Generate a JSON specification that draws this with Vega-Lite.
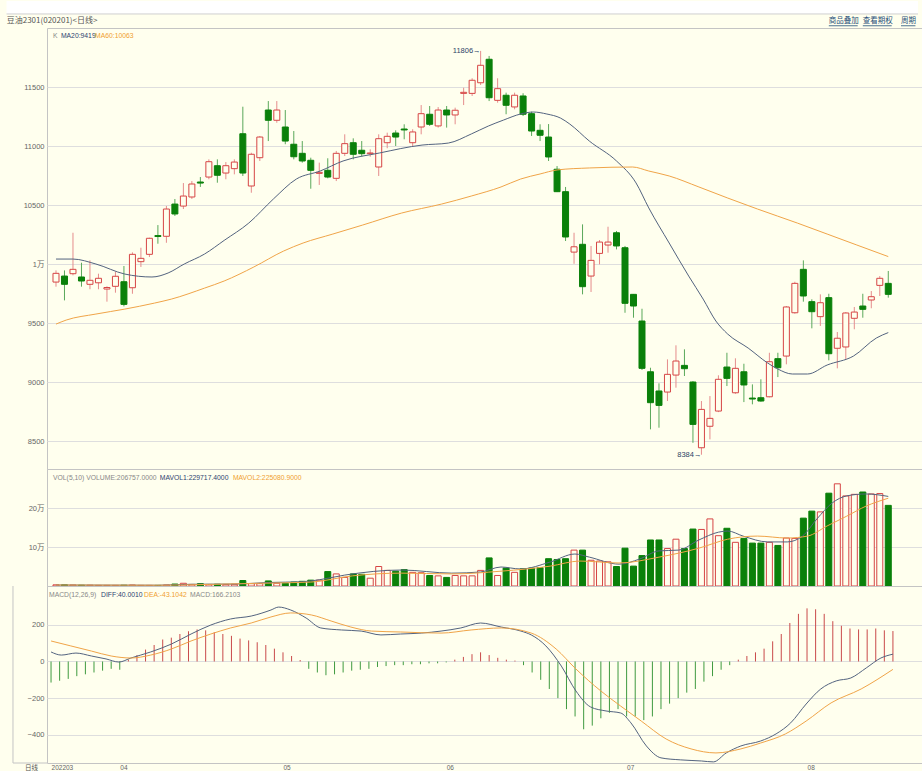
{
"$schema": "https://vega.github.io/schema/vega-lite/v6.json",
"background": "#ffffee",
"padding": {"left": 0, "right": 0, "top": 0, "bottom": 0},
"spacing": 0,
"bounds": "flush",
"config": {
  "view": {"stroke": "#c4c4c4"},
  "axis": {"labelFont": "Liberation Sans, Noto Sans CJK SC", "labelFontSize": 7.5, "labelColor": "#666666", "domain": false, "ticks": false, "gridColor": "#dedede", "labelPadding": 3, "title": null},
  "axisY": {"minExtent": 46, "maxExtent": 46},
  "text": {"font": "Liberation Sans, Noto Sans CJK SC", "fontSize": 6.8}
},
"datasets": {
"k": [
{"i":0,"o":9847,"h":9946,"l":9808,"c":9921,"v":3000,"m":-115},
{"i":1,"o":9898,"h":9946,"l":9692,"c":9828,"v":3000,"m":-105},
{"i":2,"o":9918,"h":10265,"l":9904,"c":9955,"v":2500,"m":-95},
{"i":3,"o":9890,"h":10011,"l":9808,"c":9856,"v":2000,"m":-80},
{"i":4,"o":9828,"h":10031,"l":9786,"c":9862,"v":2000,"m":-70},
{"i":5,"o":9841,"h":9918,"l":9786,"c":9879,"v":1500,"m":-60},
{"i":6,"o":9788,"h":9811,"l":9681,"c":9801,"v":1500,"m":-50},
{"i":7,"o":9811,"h":9935,"l":9757,"c":9896,"v":1500,"m":-40},
{"i":8,"o":9850,"h":9983,"l":9641,"c":9658,"v":2000,"m":-45},
{"i":9,"o":9799,"h":10099,"l":9748,"c":10082,"v":2500,"m":10},
{"i":10,"o":10020,"h":10138,"l":9975,"c":10048,"v":1500,"m":35},
{"i":11,"o":10082,"h":10223,"l":10059,"c":10218,"v":1500,"m":65},
{"i":12,"o":10241,"h":10330,"l":10172,"c":10233,"v":1500,"m":90},
{"i":13,"o":10235,"h":10492,"l":10180,"c":10466,"v":2500,"m":120},
{"i":14,"o":10508,"h":10551,"l":10407,"c":10424,"v":5000,"m":130},
{"i":15,"o":10491,"h":10686,"l":10466,"c":10576,"v":7000,"m":150},
{"i":16,"o":10568,"h":10703,"l":10551,"c":10678,"v":4000,"m":165},
{"i":17,"o":10695,"h":10737,"l":10653,"c":10686,"v":6000,"m":175},
{"i":18,"o":10737,"h":10887,"l":10718,"c":10867,"v":4000,"m":170},
{"i":19,"o":10833,"h":10887,"l":10689,"c":10752,"v":4500,"m":160},
{"i":20,"o":10771,"h":10864,"l":10718,"c":10833,"v":4000,"m":150},
{"i":21,"o":10808,"h":10887,"l":10760,"c":10864,"v":4500,"m":140},
{"i":22,"o":11104,"h":11333,"l":10746,"c":10771,"v":14000,"m":125},
{"i":23,"o":10661,"h":10943,"l":10604,"c":10930,"v":6000,"m":115},
{"i":24,"o":10901,"h":11085,"l":10873,"c":11076,"v":6000,"m":105},
{"i":25,"o":11305,"h":11381,"l":11042,"c":11218,"v":13000,"m":90},
{"i":26,"o":11218,"h":11381,"l":11197,"c":11305,"v":7000,"m":70},
{"i":27,"o":11161,"h":11305,"l":11015,"c":11042,"v":7000,"m":50},
{"i":28,"o":11015,"h":11127,"l":10887,"c":10909,"v":10000,"m":30},
{"i":29,"o":10938,"h":11042,"l":10859,"c":10873,"v":12000,"m":8},
{"i":30,"o":10879,"h":10901,"l":10638,"c":10794,"v":15000,"m":-40},
{"i":31,"o":10768,"h":10859,"l":10670,"c":10777,"v":15000,"m":-60},
{"i":32,"o":10794,"h":10896,"l":10726,"c":10737,"v":37000,"m":-75},
{"i":33,"o":10726,"h":10958,"l":10703,"c":10938,"v":31000,"m":-70},
{"i":34,"o":10938,"h":11099,"l":10915,"c":11020,"v":22000,"m":-60},
{"i":35,"o":11028,"h":11065,"l":10887,"c":10930,"v":31000,"m":-50},
{"i":36,"o":10964,"h":11042,"l":10909,"c":10935,"v":30000,"m":-45},
{"i":37,"o":10935,"h":10972,"l":10909,"c":10941,"v":20000,"m":-40},
{"i":38,"o":10822,"h":11099,"l":10746,"c":11062,"v":50000,"m":-30},
{"i":39,"o":11028,"h":11113,"l":10981,"c":11082,"v":40000,"m":-25},
{"i":40,"o":11110,"h":11133,"l":11000,"c":11076,"v":38000,"m":-20},
{"i":41,"o":11144,"h":11184,"l":11057,"c":11136,"v":42000,"m":-20},
{"i":42,"o":11028,"h":11142,"l":11000,"c":11119,"v":35000,"m":-15},
{"i":43,"o":11161,"h":11347,"l":11099,"c":11274,"v":34000,"m":-15},
{"i":44,"o":11269,"h":11339,"l":11170,"c":11184,"v":27000,"m":-10},
{"i":45,"o":11170,"h":11330,"l":11156,"c":11305,"v":26000,"m":-10},
{"i":46,"o":11305,"h":11339,"l":11156,"c":11263,"v":22000,"m":-5},
{"i":47,"o":11263,"h":11325,"l":11184,"c":11303,"v":27000,"m":10},
{"i":48,"o":11446,"h":11494,"l":11347,"c":11455,"v":26000,"m":25},
{"i":49,"o":11446,"h":11574,"l":11424,"c":11557,"v":26000,"m":40},
{"i":50,"o":11536,"h":11806,"l":11517,"c":11684,"v":40000,"m":50},
{"i":51,"o":11735,"h":11763,"l":11381,"c":11409,"v":72000,"m":35},
{"i":52,"o":11387,"h":11574,"l":11367,"c":11486,"v":27000,"m":20},
{"i":53,"o":11430,"h":11452,"l":11269,"c":11345,"v":46000,"m":10},
{"i":54,"o":11331,"h":11452,"l":11311,"c":11430,"v":35000,"m":5},
{"i":55,"o":11424,"h":11447,"l":11254,"c":11269,"v":44000,"m":-20},
{"i":56,"o":11274,"h":11291,"l":11085,"c":11127,"v":46000,"m":-60},
{"i":57,"o":11133,"h":11184,"l":11042,"c":11091,"v":47000,"m":-100},
{"i":58,"o":11076,"h":11186,"l":10873,"c":10907,"v":70000,"m":-150},
{"i":59,"o":10803,"h":10830,"l":10610,"c":10613,"v":68000,"m":-200},
{"i":60,"o":10613,"h":10653,"l":10195,"c":10229,"v":70000,"m":-260},
{"i":61,"o":10101,"h":10265,"l":10002,"c":10146,"v":92000,"m":-300},
{"i":62,"o":10167,"h":10336,"l":9743,"c":9808,"v":92000,"m":-370},
{"i":63,"o":9898,"h":10153,"l":9763,"c":10031,"v":66000,"m":-350},
{"i":64,"o":10090,"h":10203,"l":9997,"c":10186,"v":64000,"m":-310},
{"i":65,"o":10161,"h":10316,"l":10096,"c":10186,"v":62000,"m":-280},
{"i":66,"o":10265,"h":10280,"l":10124,"c":10153,"v":50000,"m":-260},
{"i":67,"o":10138,"h":10153,"l":9587,"c":9667,"v":97000,"m":-300},
{"i":68,"o":9743,"h":9746,"l":9545,"c":9644,"v":51000,"m":-300},
{"i":69,"o":9517,"h":9621,"l":9102,"c":9116,"v":78000,"m":-320},
{"i":70,"o":9087,"h":9121,"l":8599,"c":8825,"v":118000,"m":-300},
{"i":71,"o":8924,"h":8989,"l":8613,"c":8802,"v":118000,"m":-260},
{"i":72,"o":8915,"h":9192,"l":8839,"c":9065,"v":96000,"m":-230},
{"i":73,"o":9059,"h":9311,"l":8952,"c":9178,"v":120000,"m":-200},
{"i":74,"o":9141,"h":9277,"l":9051,"c":9113,"v":96000,"m":-170},
{"i":75,"o":9000,"h":9008,"l":8485,"c":8641,"v":146000,"m":-150},
{"i":76,"o":8443,"h":8839,"l":8384,"c":8768,"v":145000,"m":-110},
{"i":77,"o":8625,"h":8881,"l":8514,"c":8692,"v":172000,"m":-80},
{"i":78,"o":8754,"h":9057,"l":8745,"c":9023,"v":129000,"m":-45},
{"i":79,"o":9127,"h":9248,"l":8966,"c":9031,"v":148000,"m":-20},
{"i":80,"o":8909,"h":9201,"l":8900,"c":9116,"v":112000,"m":10},
{"i":81,"o":9087,"h":9155,"l":8830,"c":8975,"v":122000,"m":30},
{"i":82,"o":8864,"h":8980,"l":8811,"c":8856,"v":110000,"m":50},
{"i":83,"o":8867,"h":9023,"l":8833,"c":8839,"v":110000,"m":70},
{"i":84,"o":8875,"h":9248,"l":8870,"c":9172,"v":112000,"m":110},
{"i":85,"o":9198,"h":9248,"l":9042,"c":9121,"v":104000,"m":150},
{"i":86,"o":9220,"h":9644,"l":9150,"c":9636,"v":123000,"m":210},
{"i":87,"o":9587,"h":9850,"l":9579,"c":9836,"v":122000,"m":260},
{"i":88,"o":9955,"h":10031,"l":9681,"c":9729,"v":174000,"m":290},
{"i":89,"o":9681,"h":9701,"l":9455,"c":9596,"v":192000,"m":285},
{"i":90,"o":9554,"h":9743,"l":9475,"c":9672,"v":190000,"m":260},
{"i":91,"o":9715,"h":9748,"l":9184,"c":9240,"v":238000,"m":220},
{"i":92,"o":9286,"h":9424,"l":9116,"c":9371,"v":262000,"m":195},
{"i":93,"o":9297,"h":9593,"l":9192,"c":9585,"v":231000,"m":180},
{"i":94,"o":9540,"h":9636,"l":9447,"c":9593,"v":235000,"m":175},
{"i":95,"o":9644,"h":9748,"l":9545,"c":9616,"v":241000,"m":175},
{"i":96,"o":9695,"h":9771,"l":9625,"c":9723,"v":236000,"m":180},
{"i":97,"o":9819,"h":9898,"l":9729,"c":9879,"v":237000,"m":170},
{"i":98,"o":9836,"h":9941,"l":9715,"c":9743,"v":206757,"m":166.2}
],
"ma": [
{"s":"MA20","i":0,"y":10042},{"s":"MA20","i":2,"y":10042},{"s":"MA20","i":4.7,"y":10000},{"s":"MA20","i":8.1,"y":9915},{"s":"MA20","i":11.3,"y":9890},{"s":"MA20","i":13.2,"y":9924},{"s":"MA20","i":15.1,"y":10000},{"s":"MA20","i":17.5,"y":10085},{"s":"MA20","i":19.8,"y":10200},{"s":"MA20","i":22.7,"y":10347},{"s":"MA20","i":25.6,"y":10551},{"s":"MA20","i":28.3,"y":10720},{"s":"MA20","i":31.1,"y":10788},{"s":"MA20","i":33.8,"y":10873},{"s":"MA20","i":38.1,"y":10941},{"s":"MA20","i":43.1,"y":11008},{"s":"MA20","i":46.2,"y":11025},{"s":"MA20","i":48.9,"y":11102},{"s":"MA20","i":50.9,"y":11169},{"s":"MA20","i":52.7,"y":11220},{"s":"MA20","i":54.7,"y":11271},{"s":"MA20","i":56.2,"y":11288},{"s":"MA20","i":57.8,"y":11271},{"s":"MA20","i":59.4,"y":11237},{"s":"MA20","i":60.5,"y":11186},{"s":"MA20","i":62.8,"y":11042},{"s":"MA20","i":66.0,"y":10873},{"s":"MA20","i":68.3,"y":10687},{"s":"MA20","i":69.8,"y":10475},{"s":"MA20","i":72.2,"y":10178},{"s":"MA20","i":74.5,"y":9898},{"s":"MA20","i":76.2,"y":9703},{"s":"MA20","i":77.7,"y":9517},{"s":"MA20","i":79.1,"y":9406},{"s":"MA20","i":81.5,"y":9288},{"s":"MA20","i":83.8,"y":9161},{"s":"MA20","i":85.0,"y":9110},{"s":"MA20","i":86.7,"y":9068},{"s":"MA20","i":88.5,"y":9068},{"s":"MA20","i":90.8,"y":9144},{"s":"MA20","i":93.9,"y":9220},{"s":"MA20","i":96.6,"y":9373},{"s":"MA20","i":98,"y":9419},
{"s":"MA60","i":0,"y":9491},{"s":"MA60","i":1.2,"y":9525},{"s":"MA60","i":4.7,"y":9576},{"s":"MA60","i":8.1,"y":9618},{"s":"MA60","i":11.6,"y":9669},{"s":"MA60","i":13.6,"y":9703},{"s":"MA60","i":17.5,"y":9796},{"s":"MA60","i":19.8,"y":9856},{"s":"MA60","i":23.3,"y":9975},{"s":"MA60","i":26.8,"y":10110},{"s":"MA60","i":29.1,"y":10178},{"s":"MA60","i":32.6,"y":10254},{"s":"MA60","i":36.1,"y":10330},{"s":"MA60","i":40.7,"y":10432},{"s":"MA60","i":45.4,"y":10508},{"s":"MA60","i":48.9,"y":10576},{"s":"MA60","i":52.4,"y":10653},{"s":"MA60","i":54.7,"y":10720},{"s":"MA60","i":57.0,"y":10763},{"s":"MA60","i":59.0,"y":10797},{"s":"MA60","i":62.8,"y":10814},{"s":"MA60","i":67.9,"y":10822},{"s":"MA60","i":69.8,"y":10788},{"s":"MA60","i":72.2,"y":10746},{"s":"MA60","i":75.7,"y":10653},{"s":"MA60","i":79.1,"y":10559},{"s":"MA60","i":82.6,"y":10466},{"s":"MA60","i":87.3,"y":10347},{"s":"MA60","i":90.8,"y":10254},{"s":"MA60","i":94.3,"y":10161},{"s":"MA60","i":98,"y":10063}
],
"mv": [
{"s":"MV1","i":0,"y":2500},{"s":"MV1","i":12,"y":2000},{"s":"MV1","i":16,"y":4500},{"s":"MV1","i":21,"y":5000},{"s":"MV1","i":25,"y":9000},{"s":"MV1","i":29,"y":11000},{"s":"MV1","i":31,"y":16000},{"s":"MV1","i":34,"y":28000},{"s":"MV1","i":40.7,"y":41000},{"s":"MV1","i":46.6,"y":33000},{"s":"MV1","i":50,"y":36000},{"s":"MV1","i":52.4,"y":48700},{"s":"MV1","i":54.7,"y":43600},{"s":"MV1","i":58.2,"y":61500},{"s":"MV1","i":61.1,"y":82000},{"s":"MV1","i":62.8,"y":74000},{"s":"MV1","i":66.3,"y":56000},{"s":"MV1","i":68.7,"y":69000},{"s":"MV1","i":71,"y":90000},{"s":"MV1","i":73.3,"y":92000},{"s":"MV1","i":75.7,"y":118000},{"s":"MV1","i":78,"y":138000},{"s":"MV1","i":79.1,"y":141000},{"s":"MV1","i":80.9,"y":128000},{"s":"MV1","i":83.8,"y":113000},{"s":"MV1","i":86.1,"y":113000},{"s":"MV1","i":87.9,"y":128000},{"s":"MV1","i":89.6,"y":172000},{"s":"MV1","i":91.4,"y":213000},{"s":"MV1","i":93.1,"y":231000},{"s":"MV1","i":95.4,"y":236000},{"s":"MV1","i":98,"y":229717},
{"s":"MV2","i":0,"y":2500},{"s":"MV2","i":12,"y":2000},{"s":"MV2","i":18,"y":4000},{"s":"MV2","i":24,"y":7000},{"s":"MV2","i":30,"y":10000},{"s":"MV2","i":34.9,"y":26000},{"s":"MV2","i":40.7,"y":33000},{"s":"MV2","i":46.6,"y":31000},{"s":"MV2","i":52.4,"y":38000},{"s":"MV2","i":58.2,"y":51000},{"s":"MV2","i":61.7,"y":64000},{"s":"MV2","i":66.3,"y":59000},{"s":"MV2","i":71,"y":74000},{"s":"MV2","i":75.7,"y":97000},{"s":"MV2","i":79.1,"y":120000},{"s":"MV2","i":82.6,"y":128000},{"s":"MV2","i":86.1,"y":123000},{"s":"MV2","i":88.5,"y":128000},{"s":"MV2","i":90.8,"y":154000},{"s":"MV2","i":93.1,"y":179000},{"s":"MV2","i":95.4,"y":205000},{"s":"MV2","i":98,"y":225081}
],
"md": [
{"s":"DIFF","i":0,"y":52},{"s":"DIFF","i":1.2,"y":35},{"s":"DIFF","i":2.9,"y":46},{"s":"DIFF","i":4.7,"y":30},{"s":"DIFF","i":6.4,"y":14},{"s":"DIFF","i":7.9,"y":-3},{"s":"DIFF","i":9.3,"y":19},{"s":"DIFF","i":11.6,"y":52},{"s":"DIFF","i":14.0,"y":95},{"s":"DIFF","i":16.3,"y":150},{"s":"DIFF","i":18.6,"y":199},{"s":"DIFF","i":20.9,"y":232},{"s":"DIFF","i":23.3,"y":248},{"s":"DIFF","i":25.6,"y":281},{"s":"DIFF","i":26.5,"y":297},{"s":"DIFF","i":27.9,"y":281},{"s":"DIFF","i":29.7,"y":237},{"s":"DIFF","i":31.4,"y":183},{"s":"DIFF","i":33.8,"y":172},{"s":"DIFF","i":36.1,"y":166},{"s":"DIFF","i":38.4,"y":145},{"s":"DIFF","i":40.7,"y":150},{"s":"DIFF","i":43.1,"y":155},{"s":"DIFF","i":45.4,"y":166},{"s":"DIFF","i":47.7,"y":183},{"s":"DIFF","i":50.0,"y":210},{"s":"DIFF","i":52.4,"y":188},{"s":"DIFF","i":54.7,"y":166},{"s":"DIFF","i":55.9,"y":145},{"s":"DIFF","i":57.6,"y":85},{"s":"DIFF","i":59.4,"y":-25},{"s":"DIFF","i":61.1,"y":-161},{"s":"DIFF","i":62.8,"y":-248},{"s":"DIFF","i":64.6,"y":-270},{"s":"DIFF","i":66.3,"y":-281},{"s":"DIFF","i":67.5,"y":-335},{"s":"DIFF","i":69.3,"y":-461},{"s":"DIFF","i":71.0,"y":-526},{"s":"DIFF","i":73.3,"y":-537},{"s":"DIFF","i":75.7,"y":-543},{"s":"DIFF","i":77.1,"y":-548},{"s":"DIFF","i":78.6,"y":-499},{"s":"DIFF","i":80.3,"y":-461},{"s":"DIFF","i":82.6,"y":-434},{"s":"DIFF","i":84.4,"y":-395},{"s":"DIFF","i":86.1,"y":-335},{"s":"DIFF","i":87.9,"y":-232},{"s":"DIFF","i":89.6,"y":-150},{"s":"DIFF","i":91.4,"y":-106},{"s":"DIFF","i":93.1,"y":-90},{"s":"DIFF","i":94.9,"y":-35},{"s":"DIFF","i":96.6,"y":19},{"s":"DIFF","i":98,"y":40},
{"s":"DEA","i":0,"y":112},{"s":"DEA","i":2.3,"y":85},{"s":"DEA","i":4.7,"y":57},{"s":"DEA","i":7.0,"y":30},{"s":"DEA","i":9.3,"y":19},{"s":"DEA","i":11.6,"y":35},{"s":"DEA","i":14.0,"y":68},{"s":"DEA","i":16.3,"y":112},{"s":"DEA","i":18.6,"y":150},{"s":"DEA","i":20.9,"y":183},{"s":"DEA","i":23.3,"y":210},{"s":"DEA","i":25.6,"y":243},{"s":"DEA","i":27.9,"y":265},{"s":"DEA","i":30.3,"y":254},{"s":"DEA","i":32.6,"y":221},{"s":"DEA","i":34.9,"y":188},{"s":"DEA","i":37.3,"y":166},{"s":"DEA","i":40.7,"y":161},{"s":"DEA","i":45.4,"y":155},{"s":"DEA","i":48.9,"y":172},{"s":"DEA","i":52.4,"y":183},{"s":"DEA","i":55.9,"y":155},{"s":"DEA","i":58.8,"y":68},{"s":"DEA","i":61.1,"y":-41},{"s":"DEA","i":64.0,"y":-161},{"s":"DEA","i":66.3,"y":-243},{"s":"DEA","i":68.7,"y":-325},{"s":"DEA","i":71.6,"y":-423},{"s":"DEA","i":74.5,"y":-477},{"s":"DEA","i":77.4,"y":-499},{"s":"DEA","i":80.3,"y":-477},{"s":"DEA","i":82.6,"y":-445},{"s":"DEA","i":85.5,"y":-395},{"s":"DEA","i":87.9,"y":-325},{"s":"DEA","i":90.8,"y":-226},{"s":"DEA","i":94.3,"y":-150},{"s":"DEA","i":98,"y":-43.1}
]
},
"vconcat": [
{
  "width": 876, "height": 441,
  "layer": [
    {"data": {"values": [{}]}, "mark": {"type": "rect", "color": "#ffffff"},
     "encoding": {"x": {"datum": -5.824, "type": "quantitative", "scale": {"domain": [-0.47, 101.5], "nice": false, "zero": false}, "axis": null}, "x2": {"datum": 101.5},
                  "y": {"datum": 12229, "type": "quantitative", "scale": {"domain": [8263, 12000], "nice": false, "zero": false}}, "y2": {"datum": 12119}}},
    {"data": {"values": [{}]}, "mark": {"type": "rule", "strokeWidth": 1, "color": "#cfcfcf"},
     "encoding": {"x": {"datum": -5.824, "type": "quantitative"}, "x2": {"datum": 101.5}, "y": {"datum": 12119, "type": "quantitative"}}},
    {"data": {"name": "k"}, "mark": {"type": "rule", "strokeWidth": 1},
     "encoding": {
       "x": {"field": "i", "type": "quantitative"},
       "y": {"field": "l", "type": "quantitative",
             "axis": {"values": [8500, 9000, 9500, 10000, 10500, 11000, 11500], "format": "d", "labelExpr": "datum.value==10000?'1万':datum.label", "grid": true}},
       "y2": {"field": "h"},
       "color": {"condition": {"test": "datum.c>=datum.o", "value": "#e58c8c"}, "value": "#5aa85a"}}},
    {"data": {"name": "k"}, "mark": {"type": "bar", "size": 6, "strokeWidth": 1},
     "encoding": {
       "x": {"field": "i", "type": "quantitative"},
       "y": {"field": "o", "type": "quantitative"},
       "y2": {"field": "c"},
       "fill": {"condition": {"test": "datum.c>=datum.o", "value": "#ffffee"}, "value": "#0a800a"},
       "stroke": {"condition": {"test": "datum.c>=datum.o", "value": "#d64545"}, "value": "#0a800a"}}},
    {"data": {"name": "ma"}, "transform": [{"filter": "datum.s=='MA20'"}],
     "mark": {"type": "line", "strokeWidth": 1, "color": "#53637f", "interpolate": "monotone"},
     "encoding": {"x": {"field": "i", "type": "quantitative"}, "y": {"field": "y", "type": "quantitative"}}},
    {"data": {"name": "ma"}, "transform": [{"filter": "datum.s=='MA60'"}],
     "mark": {"type": "line", "strokeWidth": 1, "color": "#f0a448", "interpolate": "monotone"},
     "encoding": {"x": {"field": "i", "type": "quantitative"}, "y": {"field": "y", "type": "quantitative"}}},
    {"data": {"values": [{}]}, "mark": {"type": "text", "align": "left", "baseline": "middle", "fontSize": 8, "color": "#555555", "text": "豆油2301(020201)<日线>", "font": "Noto Sans CJK SC"},
     "encoding": {"x": {"datum": -5.8, "type": "quantitative"}, "y": {"datum": 12059, "type": "quantitative"}}},
    {"data": {"values": [{}]}, "mark": {"type": "text", "align": "left", "baseline": "middle", "color": "#888888", "text": "K"},
     "encoding": {"x": {"datum": -0.35, "type": "quantitative"}, "y": {"datum": 11932, "type": "quantitative"}}},
    {"data": {"values": [{}]}, "mark": {"type": "text", "align": "left", "baseline": "middle", "color": "#2d4370", "text": "MA20:9419"},
     "encoding": {"x": {"datum": 0.58, "type": "quantitative"}, "y": {"datum": 11932, "type": "quantitative"}}},
    {"data": {"values": [{}]}, "mark": {"type": "text", "align": "left", "baseline": "middle", "color": "#f0a030", "text": "MA60:10063"},
     "encoding": {"x": {"datum": 4.6, "type": "quantitative"}, "y": {"datum": 11932, "type": "quantitative"}}},
    {"data": {"values": [{}]}, "mark": {"type": "text", "align": "right", "baseline": "middle", "fontSize": 7.5, "color": "#2d3f66", "text": "11806→"},
     "encoding": {"x": {"datum": 50, "type": "quantitative"}, "y": {"datum": 11806, "type": "quantitative"}}},
    {"data": {"values": [{}]}, "mark": {"type": "text", "align": "right", "baseline": "middle", "fontSize": 7.5, "color": "#2d3f66", "text": "8384→"},
     "encoding": {"x": {"datum": 76, "type": "quantitative"}, "y": {"datum": 8384, "type": "quantitative"}}},
    {"data": {"values": [{}]}, "mark": {"type": "text", "align": "left", "baseline": "middle", "fontSize": 7.5, "color": "#1f4f7a", "text": "商品叠加", "font": "Noto Sans CJK SC"},
     "encoding": {"x": {"datum": 91.0, "type": "quantitative"}, "y": {"datum": 12059, "type": "quantitative"}}},
    {"data": {"values": [{}]}, "mark": {"type": "text", "align": "left", "baseline": "middle", "fontSize": 7.5, "color": "#1f4f7a", "text": "查看期权", "font": "Noto Sans CJK SC"},
     "encoding": {"x": {"datum": 95.0, "type": "quantitative"}, "y": {"datum": 12059, "type": "quantitative"}}},
    {"data": {"values": [{}]}, "mark": {"type": "text", "align": "left", "baseline": "middle", "fontSize": 7.5, "color": "#1f4f7a", "text": "周期", "font": "Noto Sans CJK SC"},
     "encoding": {"x": {"datum": 99.5, "type": "quantitative"}, "y": {"datum": 12059, "type": "quantitative"}}},
    {"data": {"values": [{}]}, "mark": {"type": "rule", "strokeWidth": 0.8, "color": "#1f4f7a"},
     "encoding": {"x": {"datum": 91.0, "type": "quantitative"}, "x2": {"datum": 94.4}, "y": {"datum": 12019, "type": "quantitative"}}},
    {"data": {"values": [{}]}, "mark": {"type": "rule", "strokeWidth": 0.8, "color": "#1f4f7a"},
     "encoding": {"x": {"datum": 95.0, "type": "quantitative"}, "x2": {"datum": 98.4}, "y": {"datum": 12019, "type": "quantitative"}}},
    {"data": {"values": [{}]}, "mark": {"type": "rule", "strokeWidth": 0.8, "color": "#1f4f7a"},
     "encoding": {"x": {"datum": 99.5, "type": "quantitative"}, "x2": {"datum": 101.2}, "y": {"datum": 12019, "type": "quantitative"}}}
  ]
},
{
  "width": 876, "height": 117,
  "layer": [
    {"data": {"name": "k"}, "mark": {"type": "bar", "size": 6, "strokeWidth": 1, "orient": "vertical"},
     "encoding": {
       "x": {"field": "i", "type": "quantitative", "scale": {"domain": [-0.47, 101.5], "nice": false, "zero": false}, "axis": null},
       "y": {"field": "v", "type": "quantitative", "scale": {"domain": [0, 300000], "nice": false},
             "axis": {"values": [100000, 200000], "labelExpr": "(datum.value/10000)+'万'", "grid": true}},
       "y2": {"datum": 0},
       "fill": {"condition": {"test": "datum.c>=datum.o", "value": "#ffffee"}, "value": "#0a800a"},
       "stroke": {"condition": {"test": "datum.c>=datum.o", "value": "#d64545"}, "value": "#0a800a"}}},
    {"data": {"name": "mv"}, "transform": [{"filter": "datum.s=='MV1'"}],
     "mark": {"type": "line", "strokeWidth": 1, "color": "#53637f", "interpolate": "monotone"},
     "encoding": {"x": {"field": "i", "type": "quantitative"}, "y": {"field": "y", "type": "quantitative"}}},
    {"data": {"name": "mv"}, "transform": [{"filter": "datum.s=='MV2'"}],
     "mark": {"type": "line", "strokeWidth": 1, "color": "#f0a448", "interpolate": "monotone"},
     "encoding": {"x": {"field": "i", "type": "quantitative"}, "y": {"field": "y", "type": "quantitative"}}},
    {"data": {"values": [{}]}, "mark": {"type": "text", "align": "left", "baseline": "middle", "color": "#888888", "text": "VOL(5,10) VOLUME:206757.0000"},
     "encoding": {"x": {"datum": -0.35, "type": "quantitative"}, "y": {"datum": 276900, "type": "quantitative"}}},
    {"data": {"values": [{}]}, "mark": {"type": "text", "align": "left", "baseline": "middle", "color": "#2d4370", "text": "MAVOL1:229717.4000"},
     "encoding": {"x": {"datum": 12.22, "type": "quantitative"}, "y": {"datum": 276900, "type": "quantitative"}}},
    {"data": {"values": [{}]}, "mark": {"type": "text", "align": "left", "baseline": "middle", "color": "#f0a030", "text": "MAVOL2:225080.9000"},
     "encoding": {"x": {"datum": 20.83, "type": "quantitative"}, "y": {"datum": 276900, "type": "quantitative"}}}
  ]
},
{
  "width": 876, "height": 177,
  "layer": [
    {"data": {"name": "k"}, "mark": {"type": "rule", "strokeWidth": 1},
     "encoding": {
       "x": {"field": "i", "type": "quantitative", "scale": {"domain": [-0.47, 101.5], "nice": false, "zero": false},
             "axis": {"values": [0, 8, 27, 46, 67, 88], "labelExpr": "datum.value==0?'202203':datum.value==8?'04':datum.value==27?'05':datum.value==46?'06':datum.value==67?'07':'08'", "labelAlign": "left", "labelFontSize": 6.5, "labelPadding": 1, "grid": false, "title": "日线", "titleX": -16, "titleY": 4.5, "titleBaseline": "middle", "titleFontSize": 6.5, "titleFontWeight": "normal", "titleColor": "#555555", "titleFont": "Noto Sans CJK SC"}},
       "y": {"field": "m", "type": "quantitative", "scale": {"domain": [-554, 412], "nice": false, "zero": false},
             "axis": {"values": [-400, -200, 0, 200], "format": "d", "grid": true}},
       "y2": {"datum": 0},
       "color": {"condition": {"test": "datum.m>=0", "value": "#c94a4a"}, "value": "#3f9a3f"}}},
    {"data": {"values": [{}]}, "mark": {"type": "rule", "strokeWidth": 1, "color": "#c4c4c4"},
     "encoding": {"x": {"datum": -4.43, "type": "quantitative"}, "y": {"datum": 412, "type": "quantitative"}, "y2": {"datum": -554}}},
    {"data": {"values": [{}]}, "mark": {"type": "rule", "strokeWidth": 1, "color": "#c4c4c4"},
     "encoding": {"x": {"datum": -4.43, "type": "quantitative"}, "x2": {"datum": -0.47}, "y": {"datum": -554, "type": "quantitative"}}},
    {"data": {"name": "md"}, "transform": [{"filter": "datum.s=='DIFF'"}],
     "mark": {"type": "line", "strokeWidth": 1, "color": "#53637f", "interpolate": "monotone"},
     "encoding": {"x": {"field": "i", "type": "quantitative"}, "y": {"field": "y", "type": "quantitative"}}},
    {"data": {"name": "md"}, "transform": [{"filter": "datum.s=='DEA'"}],
     "mark": {"type": "line", "strokeWidth": 1, "color": "#f0a448", "interpolate": "monotone"},
     "encoding": {"x": {"field": "i", "type": "quantitative"}, "y": {"field": "y", "type": "quantitative"}}},
    {"data": {"values": [{}]}, "mark": {"type": "text", "align": "left", "baseline": "middle", "color": "#888888", "text": "MACD(12,26,9)"},
     "encoding": {"x": {"datum": -0.24, "type": "quantitative"}, "y": {"datum": 363, "type": "quantitative"}}},
    {"data": {"values": [{}]}, "mark": {"type": "text", "align": "left", "baseline": "middle", "color": "#2d4370", "text": "DIFF:40.0010"},
     "encoding": {"x": {"datum": 5.82, "type": "quantitative"}, "y": {"datum": 363, "type": "quantitative"}}},
    {"data": {"values": [{}]}, "mark": {"type": "text", "align": "left", "baseline": "middle", "color": "#f0a030", "text": "DEA:-43.1042"},
     "encoding": {"x": {"datum": 10.82, "type": "quantitative"}, "y": {"datum": 363, "type": "quantitative"}}},
    {"data": {"values": [{}]}, "mark": {"type": "text", "align": "left", "baseline": "middle", "color": "#888888", "text": "MACD:166.2103"},
     "encoding": {"x": {"datum": 16.18, "type": "quantitative"}, "y": {"datum": 363, "type": "quantitative"}}}
  ]
}
]
}
